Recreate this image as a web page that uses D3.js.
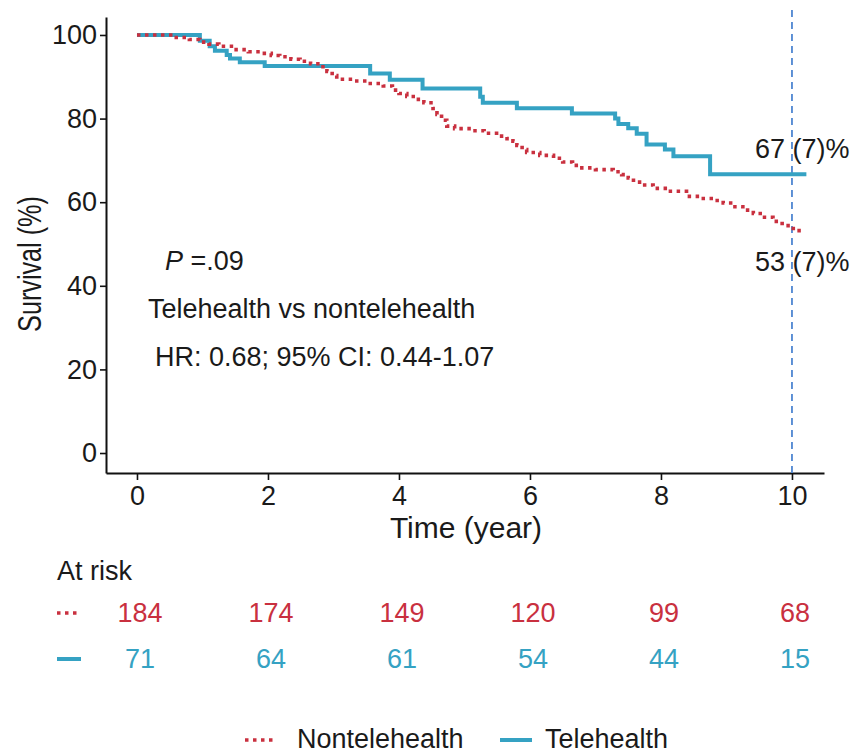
<!DOCTYPE html>
<html>
<head>
<meta charset="utf-8">
<script src="https://cdn.jsdelivr.net/npm/d3@7"></script>
<style>
  body { margin: 0; background: #fff; }
  text { font-family: "Liberation Sans", Arial, sans-serif; fill: #1a1a1a; }
</style>
</head>
<body>
<div id="chart"></div>
<script>
// Kaplan-Meier steps: [time (year), survival %]
var teleSteps = [[0,100],[0.96,98.6],[1.11,97.3],[1.19,96.2],[1.37,95.2],[1.42,94.4],[1.57,93.5],[1.95,92.6],
    [3.56,90.8],[3.86,89.3],[4.36,87.2],[5.24,85.2],[5.28,83.8],[5.80,82.5],[6.64,81.2],[7.30,80.0],
    [7.35,78.7],[7.50,77.7],[7.63,76.4],[7.78,73.8],[8.06,72.6],[8.19,71.0],[8.75,66.7],[10.22,66.7]];
var nonteleSteps = [[0,100],[0.55,99.4],[0.8,98.9],[0.96,98.3],[1.1,97.8],[1.25,97.3],[1.47,96.5],[1.7,96.0],
    [1.88,95.6],[2.05,95.1],[2.18,94.8],[2.35,94.2],[2.49,93.7],[2.65,93.1],[2.79,92.4],[2.9,91.3],
    [2.98,90.3],[3.05,89.4],[3.3,89.0],[3.51,88.4],[3.76,87.8],[3.9,86.8],[4.0,86.0],[4.12,85.3],
    [4.25,84.6],[4.38,83.8],[4.52,82.4],[4.58,81.0],[4.65,79.6],[4.73,78.2],[4.85,77.6],[5.1,77.1],
    [5.3,76.5],[5.49,75.8],[5.65,75.2],[5.74,74.6],[5.8,73.6],[5.88,72.6],[5.95,71.9],[6.15,71.2],
    [6.36,70.5],[6.5,69.6],[6.65,68.8],[6.76,68.2],[7.0,67.8],[7.27,67.3],[7.4,66.6],[7.5,65.8],
    [7.58,64.8],[7.72,64.1],[7.88,63.3],[8.1,62.6],[8.39,61.4],[8.6,60.9],[8.8,60.4],[8.95,59.8],
    [9.1,58.9],[9.25,58.1],[9.41,57.3],[9.55,56.4],[9.71,55.4],[9.85,54.4],[10.02,53.2],[10.17,53.2]];

var xTicks = [0, 2, 4, 6, 8, 10];
var yTicks = [0, 20, 40, 60, 80, 100];
var riskNontele = [184, 174, 149, 120, 99, 68];
var riskTele = [71, 64, 61, 54, 44, 15];
var groups = ['Nontelehealth', 'Telehealth'];
var endLabels = ['67 (7)%', '53 (7)%'];
var landmark = 10;

var svgWidth = 856;
var svgHeight = 753;

var red = '#c9303f';
var teal = '#35a2c3';
var dashBlue = '#4f86d1';

var svg = d3.select('#chart')
    .append('svg')
    .attr('width', svgWidth)
    .attr('height', svgHeight);

// scales - axis lines run a bit past 0 and 10 / 0 and 100
var x = d3.scaleLinear().domain([-0.473, 10.489]).range([106, 824]);
var y = d3.scaleLinear().domain([-4.78, 104.3]).range([473, 17]);

// axes
var xAxis = svg.append('g')
    .attr('transform', `translate(0, ${y(-4.78)})`)
    .call(d3.axisBottom(x).tickValues(xTicks).tickSizeInner(7).tickSizeOuter(0).tickPadding(6));
var yAxis = svg.append('g')
    .attr('transform', `translate(${x(-0.473)}, 0)`)
    .call(d3.axisLeft(y).tickValues(yTicks).tickSizeInner(6).tickSizeOuter(0).tickPadding(3));

[xAxis, yAxis].forEach(function(a) {
    a.select('.domain').attr('stroke', '#111').attr('stroke-width', 2);
    a.selectAll('.tick line').attr('stroke', '#111').attr('stroke-width', 1.6);
    a.selectAll('.tick text')
        .attr('font-size', '27px')
        .attr('font-family', '"Liberation Sans", Arial, sans-serif')
        .attr('fill', '#1a1a1a');
});

// axis titles
svg.append('text')
    .attr('x', 466)
    .attr('y', 538)
    .attr('text-anchor', 'middle')
    .attr('font-size', '30px')
    .text('Time (year)');

// the y title is narrow and tall in the original
svg.append('text')
    .attr('transform', 'translate(41, 264) rotate(-90) scale(0.9, 1.18)')
    .attr('text-anchor', 'middle')
    .attr('font-size', '28px')
    .text('Survival (%)');

// landmark line at 10 years
svg.append('line')
    .attr('x1', x(landmark)).attr('x2', x(landmark))
    .attr('y1', y(106)).attr('y2', y(-4.78))
    .attr('stroke', dashBlue)
    .attr('stroke-width', 1.8)
    .attr('stroke-dasharray', '7,5');

// survival curves
var line = d3.line()
    .x(d => x(d[0]))
    .y(d => y(d[1]))
    .curve(d3.curveStepAfter);

svg.append('path')
    .datum(teleSteps)
    .attr('d', line)
    .attr('fill', 'none')
    .attr('stroke', teal)
    .attr('stroke-width', 4);

svg.append('path')
    .datum(nonteleSteps)
    .attr('d', line)
    .attr('fill', 'none')
    .attr('stroke', red)
    .attr('stroke-width', 3.6)
    .attr('stroke-dasharray', '3.5,4.5');

// end-of-follow-up labels
svg.append('text').attr('x', 755).attr('y', 158).attr('font-size', '27px').text(endLabels[0]);
svg.append('text').attr('x', 755).attr('y', 271).attr('font-size', '27px').text(endLabels[1]);

// test annotations
var pText = svg.append('text').attr('x', 165).attr('y', 270).attr('font-size', '27px');
pText.append('tspan').attr('font-style', 'italic').text('P');
pText.append('tspan').text(' =.09');
svg.append('text').attr('x', 148).attr('y', 318).attr('font-size', '27px').text('Telehealth vs nontelehealth');
svg.append('text').attr('x', 155).attr('y', 366).attr('font-size', '27px').text('HR: 0.68; 95% CI: 0.44-1.07');

// at-risk table
svg.append('text').attr('x', 57).attr('y', 580).attr('font-size', '27px').text('At risk');

var rows = [
    {vals: riskNontele, color: red, dash: '3.5,4.5', width: 3.6, yPos: 622},
    {vals: riskTele, color: teal, dash: null, width: 4, yPos: 668}
];
rows.forEach(function(r) {
    svg.append('line')
        .attr('x1', 57).attr('x2', 81)
        .attr('y1', r.yPos - 9).attr('y2', r.yPos - 9)
        .attr('stroke', r.color)
        .attr('stroke-width', r.width)
        .attr('stroke-dasharray', r.dash);
    svg.selectAll(null)
        .data(r.vals)
        .enter()
        .append('text')
        .attr('x', (d, i) => x(xTicks[i]) + 3)
        .attr('y', r.yPos)
        .attr('text-anchor', 'middle')
        .attr('font-size', '27px')
        .style('fill', r.color)
        .text(d => d);
});

// legend
var legendItems = [
    {name: groups[0], color: red, dash: '3.5,4.5', width: 3.6, x0: 245, tx: 297},
    {name: groups[1], color: teal, dash: null, width: 4, x0: 500, tx: 545}
];
legendItems.forEach(function(l) {
    svg.append('line')
        .attr('x1', l.x0).attr('x2', l.x0 + 32)
        .attr('y1', 740).attr('y2', 740)
        .attr('stroke', l.color)
        .attr('stroke-width', l.width)
        .attr('stroke-dasharray', l.dash);
    svg.append('text')
        .attr('x', l.tx)
        .attr('y', 748)
        .attr('font-size', '27px')
        .text(l.name);
});
</script>
</body>
</html>
